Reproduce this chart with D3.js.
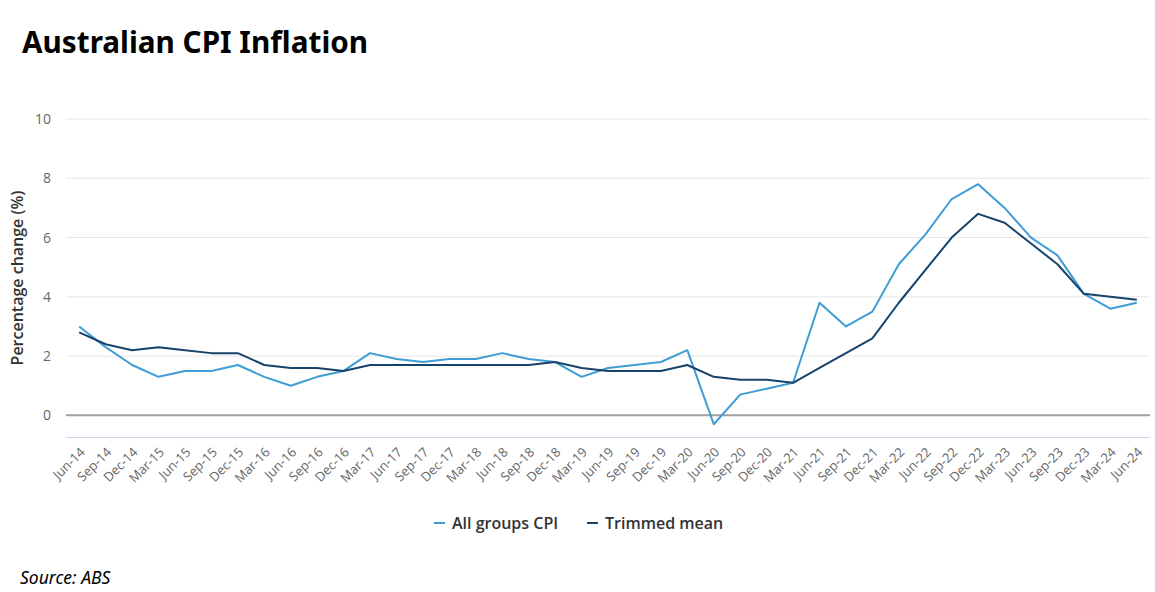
<!DOCTYPE html>
<html>
<head>
<meta charset="utf-8">
<script src="https://cdn.jsdelivr.net/npm/d3@7"></script>
<style>
  body { margin: 0; background: #fff; }
  svg { display: block; }
</style>
</head>
<body>
<div id="chart"></div>
<script>
// Quarter labels, Jun-14 to Jun-24
const quarters = [
  "Jun-14","Sep-14","Dec-14","Mar-15","Jun-15","Sep-15","Dec-15","Mar-16","Jun-16","Sep-16","Dec-16",
  "Mar-17","Jun-17","Sep-17","Dec-17","Mar-18","Jun-18","Sep-18","Dec-18","Mar-19","Jun-19","Sep-19",
  "Dec-19","Mar-20","Jun-20","Sep-20","Dec-20","Mar-21","Jun-21","Sep-21","Dec-21","Mar-22","Jun-22",
  "Sep-22","Dec-22","Mar-23","Jun-23","Sep-23","Dec-23","Mar-24","Jun-24"
];

// All groups CPI, annual % change
const cpiValues = [
  3.0, 2.3, 1.7, 1.3, 1.5, 1.5, 1.7, 1.3, 1.0, 1.3, 1.5,
  2.1, 1.9, 1.8, 1.9, 1.9, 2.1, 1.9, 1.8, 1.3, 1.6, 1.7,
  1.8, 2.2, -0.3, 0.7, 0.9, 1.1, 3.8, 3.0, 3.5, 5.1, 6.1,
  7.3, 7.8, 7.0, 6.0, 5.4, 4.1, 3.6, 3.8
];

// Trimmed mean, annual % change
const trimmedValues = [
  2.8, 2.4, 2.2, 2.3, 2.2, 2.1, 2.1, 1.7, 1.6, 1.6, 1.5,
  1.7, 1.7, 1.7, 1.7, 1.7, 1.7, 1.7, 1.8, 1.6, 1.5, 1.5,
  1.5, 1.7, 1.3, 1.2, 1.2, 1.1, 1.6, 2.1, 2.6, 3.8, 4.9,
  6.0, 6.8, 6.5, 5.8, 5.1, 4.1, 4.0, 3.9
];

const yTicks = [0, 2, 4, 6, 8, 10];

const series = [
  { name: "All groups CPI", values: cpiValues, color: "#3d9dd4" },
  { name: "Trimmed mean", values: trimmedValues, color: "#16436a" }
];

const width = 1155;
const height = 592;
const margin = { top: 119, right: 5, bottom: 155, left: 66 };

const svg = d3.select("#chart").append("svg")
  .attr("width", width)
  .attr("height", height);

const x = d3.scalePoint()
  .domain(quarters)
  .range([margin.left, width - margin.right])
  .padding(0.5);

const y = d3.scaleLinear()
  .domain([-0.73, 10])
  .range([height - margin.bottom, margin.top]);

// title
svg.append("text")
  .attr("x", 22)
  .attr("y", 53)
  .attr("font-family", "Noto Sans, sans-serif")
  .attr("font-weight", "bold")
  .attr("font-size", "29.7px")
  .attr("fill", "#000")
  .text("Australian CPI Inflation");

// gridlines
svg.append("g")
  .selectAll("line")
  .data(yTicks.filter(d => d !== 0))
  .join("line")
  .attr("x1", margin.left)
  .attr("x2", width - margin.right)
  .attr("y1", d => y(d))
  .attr("y2", d => y(d))
  .attr("stroke", "#e6e6e6")
  .attr("stroke-width", 1);

// y axis tick labels
const yAxis = svg.append("g")
  .attr("transform", `translate(${margin.left - 15},0)`)
  .call(d3.axisLeft(y).tickValues(yTicks).tickSize(0).tickPadding(0));
yAxis.select(".domain").remove();
yAxis.selectAll("text")
  .attr("font-family", "Open Sans, sans-serif")
  .attr("font-size", "14px")
  .attr("fill", "#666");

// bottom axis line
svg.append("line")
  .attr("x1", margin.left)
  .attr("x2", width - margin.right)
  .attr("y1", height - margin.bottom + 0.5)
  .attr("y2", height - margin.bottom + 0.5)
  .attr("stroke", "#ccd6eb")
  .attr("stroke-width", 1);

// zero line
svg.append("line")
  .attr("x1", margin.left)
  .attr("x2", width - margin.right)
  .attr("y1", y(0))
  .attr("y2", y(0))
  .attr("stroke", "#a0a0a0")
  .attr("stroke-width", 2);

// x axis labels
const xAxis = svg.append("g")
  .attr("transform", `translate(0,${height - margin.bottom})`)
  .call(d3.axisBottom(x).tickSize(0).tickPadding(0));
xAxis.select(".domain").remove();
xAxis.selectAll("text")
  .attr("font-family", "Open Sans, sans-serif")
  .attr("font-size", "13px")
  .attr("fill", "#666")
  .attr("text-anchor", "end")
  .attr("dy", null)
  .attr("transform", "translate(6,16) rotate(-45)");

// y axis title
svg.append("text")
  .attr("transform", `translate(23,${(margin.top + height - margin.bottom) / 2}) rotate(-90)`)
  .attr("text-anchor", "middle")
  .attr("font-family", "Open Sans, sans-serif")
  .attr("font-weight", 600)
  .attr("font-size", "16px")
  .attr("fill", "#333")
  .text("Percentage change (%)");

// lines
const line = d3.line()
  .x((d, i) => x(quarters[i]))
  .y(d => y(d));

svg.append("g")
  .selectAll("path")
  .data(series)
  .join("path")
  .attr("fill", "none")
  .attr("stroke", d => d.color)
  .attr("stroke-width", 2)
  .attr("stroke-linejoin", "round")
  .attr("d", d => line(d.values));

// legend
const legendX = [434, 587];
const legend = svg.append("g")
  .selectAll("g")
  .data(series)
  .join("g")
  .attr("transform", (d, i) => `translate(${legendX[i]},523)`);

legend.append("line")
  .attr("x1", 0)
  .attr("x2", 11)
  .attr("stroke", d => d.color)
  .attr("stroke-width", 2);

legend.append("text")
  .attr("x", 18)
  .attr("dy", "0.35em")
  .attr("font-family", "Open Sans, sans-serif")
  .attr("font-weight", 600)
  .attr("font-size", "16px")
  .attr("fill", "#333")
  .text(d => d.name);

// source
svg.append("text")
  .attr("x", 20)
  .attr("y", 584)
  .attr("font-family", "Noto Sans, sans-serif")
  .attr("font-style", "italic")
  .attr("font-size", "17.5px")
  .attr("fill", "#000")
  .text("Source: ABS");
</script>
</body>
</html>
